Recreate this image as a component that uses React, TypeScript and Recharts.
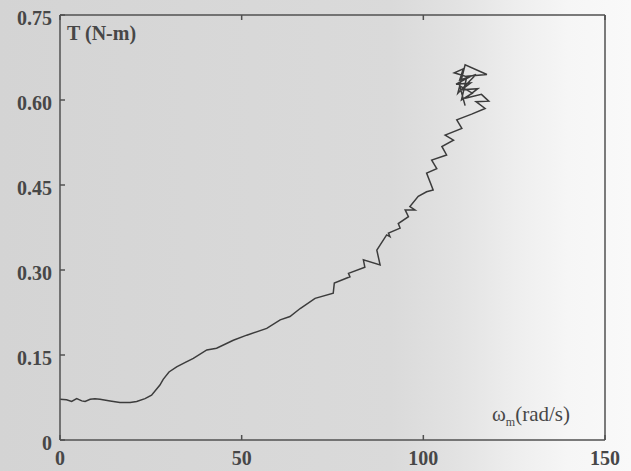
import { LineChart, Line, XAxis, YAxis } from "recharts";

const omega = [
  0, 1.8, 3.2, 4.6, 6.0, 6.9, 8.3, 9.6, 11.0, 13.8, 16.5, 19.3, 21.1, 23.4, 25.2, 27.5, 28.4, 30.0,
  32.1, 34.5, 36.7, 40.4, 43.1, 47.7, 51.4, 56.9, 60.6, 63.3, 66.1, 70.2, 75.2, 75.5, 79.8, 79.4,
  83.9, 83.5, 88.1, 87.2, 89.9, 90.8, 90.4, 93.6, 93.1, 95.9, 95.0, 97.7, 96.3, 98.6, 100.9, 102.7,
  100.9, 103.7, 102.3, 106.4, 105.1, 108.3, 106.0, 110.6, 109.2, 113.3, 117.0, 114.5, 118.0, 116.0,
  111.5, 115.0, 110.5, 113.0, 109.0, 112.5, 108.5, 111.0, 110.0, 114.5, 109.5, 111.5, 117.5, 112.0,
  110.5, 113.5, 110.0, 111.5,
];
const torque = [
  0.072, 0.071, 0.068, 0.073, 0.069, 0.068, 0.072, 0.073, 0.072, 0.069, 0.066, 0.066, 0.068, 0.073,
  0.079, 0.097, 0.107, 0.12, 0.129, 0.137, 0.144, 0.159, 0.162, 0.176, 0.185, 0.197, 0.212, 0.218,
  0.232, 0.25, 0.259, 0.277, 0.288, 0.294, 0.305, 0.318, 0.309, 0.335, 0.362, 0.359, 0.365, 0.374,
  0.382, 0.394, 0.406, 0.406, 0.412, 0.43, 0.438, 0.441, 0.471, 0.479, 0.494, 0.503, 0.518, 0.529,
  0.538, 0.55, 0.565, 0.575, 0.585, 0.597, 0.598, 0.61, 0.603, 0.62, 0.618, 0.63, 0.628, 0.64, 0.648,
  0.655, 0.635, 0.645, 0.612, 0.662, 0.645, 0.642, 0.6, 0.612, 0.625, 0.59,
];
const xTicks = [0, 50, 100, 150];
const yTicks = [0, 0.15, 0.3, 0.45, 0.6, 0.75];
const yMinorTicks = [0, 0.075, 0.15, 0.225, 0.3, 0.375, 0.45, 0.525, 0.6, 0.675, 0.75];

const data = omega.map((w, i) => ({ w, t: torque[i] }));

const axisColor = "#505050";
const textColor = "#474747";
const serif = "'Liberation Serif', 'DejaVu Serif', serif";

const yLabel = (v: number) => (v === 0 ? "0" : v.toFixed(2));

function Empty() {
  return <g />;
}

export default function App() {
  return (
    <div
      style={{
        position: "absolute",
        left: 0,
        top: 0,
        width: 631,
        height: 471,
        background:
          "linear-gradient(to right, #d4d4d4 0%, #d8d8d8 40%, #dadada 62%, #e2e2e2 72%, #eeeeee 82%, #f6f6f6 90%, #f9f9f9 100%)",
        fontFamily: serif,
      }}
    >
      <LineChart width={631} height={471} data={data} margin={{ top: 0, right: 0, bottom: 0, left: 0 }}>
        <XAxis
          xAxisId="b"
          dataKey="w"
          type="number"
          domain={[0, 150]}
          ticks={xTicks}
          height={31}
          tickSize={-5}
          tickMargin={16}
          stroke={axisColor}
          strokeWidth={1.5}
          tick={{ fill: textColor, fontSize: 20, fontWeight: 700, fontFamily: serif }}
        />
        <XAxis
          xAxisId="t"
          orientation="top"
          dataKey="w"
          type="number"
          domain={[0, 150]}
          ticks={xTicks}
          height={15}
          tickSize={-5}
          stroke={axisColor}
          strokeWidth={1.5}
          tick={Empty}
        />
        <YAxis
          yAxisId="l"
          domain={[0, 0.75]}
          ticks={yTicks}
          width={60}
          tickSize={-5}
          tickMargin={13}
          stroke={axisColor}
          strokeWidth={1.5}
          tickFormatter={yLabel}
          tick={{ fill: textColor, fontSize: 20, fontWeight: 700, fontFamily: serif, dy: 3 }}
        />
        <YAxis
          yAxisId="r"
          orientation="right"
          domain={[0, 0.75]}
          ticks={yMinorTicks}
          width={26}
          tickSize={-5}
          stroke={axisColor}
          strokeWidth={1.5}
          tick={Empty}
        />
        <Line
          xAxisId="b"
          yAxisId="l"
          type="linear"
          dataKey="t"
          stroke="#3c3c3c"
          strokeWidth={1.5}
          dot={false}
          isAnimationActive={false}
        />
      </LineChart>
      <div
        style={{
          position: "absolute",
          left: 67,
          top: 22,
          fontSize: 20,
          fontWeight: 700,
          color: textColor,
          whiteSpace: "nowrap",
        }}
      >
        T (N-m)
      </div>
      <div
        style={{
          position: "absolute",
          left: 492,
          top: 402,
          fontSize: 21,
          color: textColor,
          whiteSpace: "nowrap",
        }}
      >
        ω<sub style={{ fontSize: 12 }}>m</sub>(rad/s)
      </div>
    </div>
  );
}
